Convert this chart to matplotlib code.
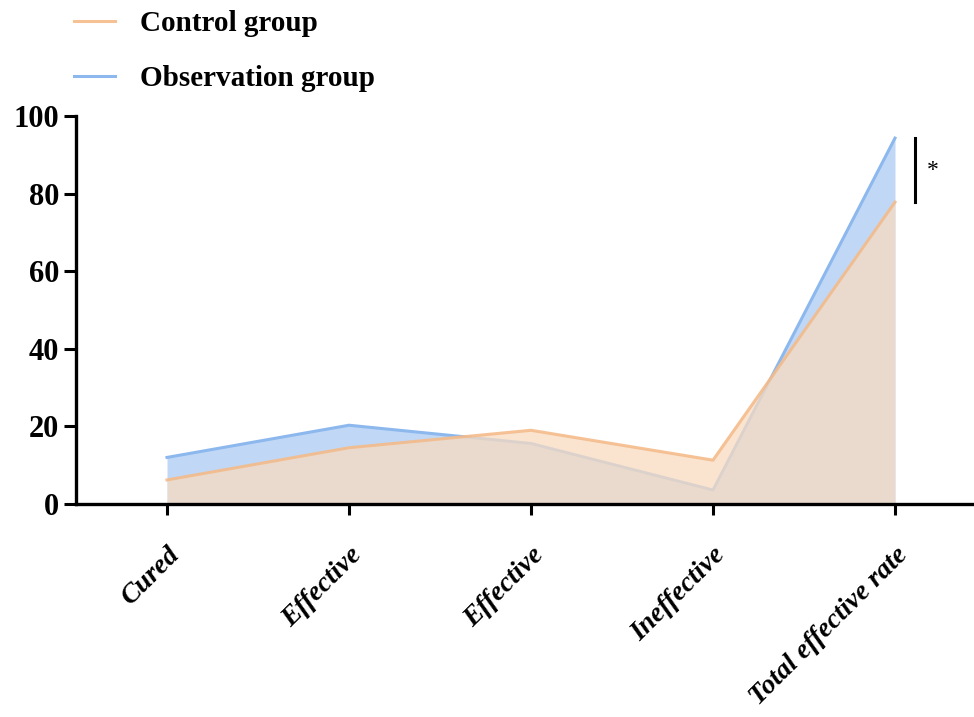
import numpy as np
import matplotlib
matplotlib.use("Agg")
import matplotlib.pyplot as plt

categories = ["Cured", "Effective", "Effective", "Ineffective", "Total effective rate"]
control = [6.2, 14.5, 19.0, 11.3, 77.8]
observation = [12.0, 20.3, 15.6, 3.6, 94.3]
yticks = [0, 20, 40, 60, 80, 100]

plt.rcParams['font.family'] = ['Liberation Serif', 'DejaVu Serif']
plt.rcParams['font.weight'] = 'bold'

fig = plt.figure(figsize=(9.74, 7.17), dpi=100)
ax = fig.add_axes([76 / 974, 1 - 504 / 717, 1 - 76 / 974, (504 - 116) / 717])

x = np.arange(len(categories))
obs_line, ctl_line = '#8cb8ee', '#f4bb8a'

ax.fill_between(x, observation, color='#b9d4f6', alpha=0.9, lw=0, zorder=1)
ax.plot(x, observation, color=obs_line, lw=2.2, zorder=2, label='Observation group')
ax.fill_between(x, control, color='#f9dcc0', alpha=0.75, lw=0, zorder=3)
ax.plot(x, control, color=ctl_line, lw=2.2, alpha=0.9, zorder=4, label='Control group')

ax.set_xlim(-0.5, 4 + 79 / 182)
ax.set_ylim(0, 100)
ax.set_yticks(yticks)
ax.set_yticklabels([str(v) for v in yticks], fontsize=22, fontweight='bold')
ax.set_xticks(x)
ax.set_xticklabels(categories, rotation=45, ha='right', rotation_mode='anchor',
                   fontsize=20, fontweight='bold', fontstyle='italic')

for side in ('top', 'right'):
    ax.spines[side].set_visible(False)
for side in ('left', 'bottom'):
    ax.spines[side].set_linewidth(2.4)
ax.tick_params(axis='both', width=2.2, length=8)
ax.tick_params(axis='y', length=9, pad=3)
ax.tick_params(axis='x', pad=20)
ax.spines['left'].set_bounds(0, 100)
ax.spines['left'].set_zorder(6)
ax.spines['bottom'].set_zorder(6)

# significance marker next to the last category
ax.plot([4.11, 4.11], [observation[-1], control[-1]], color='black', lw=2.2,
        clip_on=False)
ax.text(4.21, (observation[-1] + control[-1]) / 2, '*', fontsize=17,
        ha='center', va='center', fontweight='normal')

handles, labels = ax.get_legend_handles_labels()
fig.legend(handles[::-1], labels[::-1], loc='upper left',
           bbox_to_anchor=(48 / 974, 1.022), frameon=False,
           handlelength=1.4, labelspacing=0.95, handletextpad=0.85,
           prop={'weight': 'bold', 'size': 21})

fig.savefig('out.png', dpi=100)
